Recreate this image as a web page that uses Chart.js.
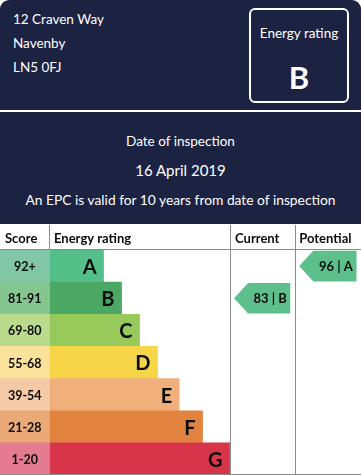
<!DOCTYPE html>
<html>
<head>
<meta charset="utf-8">
<script src="https://cdn.jsdelivr.net/npm/chart.js@4.4.1/dist/chart.umd.min.js"></script>
<style>
  html, body { margin: 0; padding: 0; background: #ffffff; }
  body { width: 361px; height: 475px; position: relative; overflow: hidden; font-family: Lato, "Open Sans", sans-serif; }
  .navy { position: absolute; left: 0; width: 361px; background: #1c2242; color: #ffffff; }
  #top { top: 0; height: 110px; border-radius: 9px 9px 0 0; }
  #mid { top: 112px; height: 112px; }
  .addr { position: absolute; left: 13px; font-size: 13.5px; line-height: 16px; }
  #box { position: absolute; left: 249px; top: 8px; width: 96px; height: 91px; border: 2px solid #ffffff; border-radius: 6px; }
  #box .lbl { position: absolute; left: 0; width: 96px; top: 15px; text-align: center; font-size: 13.5px; line-height: 16px; }
  #box .big { position: absolute; left: 0; width: 96px; top: 50px; text-align: center; font-size: 31px; font-weight: 700; line-height: 34px; }
  .mtxt { position: absolute; left: 0; width: 361px; text-align: center; line-height: 18px; }
  #chartWrap { position: absolute; left: 0; top: 225px; width: 361px; height: 250px; }
</style>
</head>
<body>
<div id="top" class="navy">
  <div class="addr" id="a1" style="top:11px"></div>
  <div class="addr" id="a2" style="top:35px"></div>
  <div class="addr" id="a3" style="top:59px"></div>
  <div id="box"><div class="lbl" id="boxLbl"></div><div class="big" id="boxBand"></div></div>
</div>
<div id="mid" class="navy">
  <div class="mtxt" id="m1" style="top:20px;font-size:13.5px"></div>
  <div class="mtxt" id="m2" style="top:49px;font-size:15px"></div>
  <div class="mtxt" id="m3" style="top:79px;font-size:13.8px"></div>
</div>
<div id="chartWrap"><canvas id="c" width="361" height="250"></canvas></div>
<script>
// ---- data ----
const addressLines = ['12 Craven Way', 'Navenby', 'LN5 0FJ'];
const ratingLabel = 'Energy rating';
const overallBand = 'B';
const inspectionLines = ['Date of inspection', '16 April 2019', 'An EPC is valid for 10 years from date of inspection'];
const headerLabels = ['Score', 'Energy rating', 'Current', 'Potential'];
const bands = ['A', 'B', 'C', 'D', 'E', 'F', 'G'];
const scoreRanges = ['92+', '81-91', '69-80', '55-68', '39-54', '21-28', '1-20'];
const barLengths = [30, 40, 50, 60, 72, 85, 100];
const currentScore = 83;
const currentBand = 'B';
const potentialScore = 96;
const potentialBand = 'A';

// ---- styles ----
const bandColors = ['#55bf8a', '#4ba864', '#97c95b', '#f7d548', '#f1b07b', '#e2843f', '#d8344a'];
const scoreColors = ['#80c6a7', '#85c690', '#badb8c', '#fbe29a', '#f5caa6', '#eaa977', '#e47b92'];
const arrowColor = '#5dbf8b';
const lineColor = '#8c8c8c';
const textDark = '#0b0c0c';
const FONT = 'Lato, "Open Sans", sans-serif';
// column extents in x-scale units (rating column = 0..100)
const COL_SCORE = [-27.5, 0];
const COL_CURRENT = [100, 136.2];
const COL_POTENTIAL = [136.2, 173];

document.getElementById('a1').textContent = addressLines[0];
document.getElementById('a2').textContent = addressLines[1];
document.getElementById('a3').textContent = addressLines[2];
document.getElementById('boxLbl').textContent = ratingLabel;
document.getElementById('boxBand').textContent = overallBand;
document.getElementById('m1').textContent = inspectionLines[0];
document.getElementById('m2').textContent = inspectionLines[1];
document.getElementById('m3').textContent = inspectionLines[2];

const tablePlugin = {
  id: 'epcTable',
  afterDatasetsDraw(chart) {
    const { ctx, chartArea, scales } = chart;
    const x = scales.x, y = scales.y;
    const top = 0, headBottom = chartArea.top, bottom = chartArea.bottom;
    const xs0 = x.getPixelForValue(COL_SCORE[0]);
    const xs1 = x.getPixelForValue(COL_SCORE[1]);
    const xc0 = x.getPixelForValue(COL_CURRENT[0]);
    const xc1 = x.getPixelForValue(COL_CURRENT[1]);
    const xp0 = x.getPixelForValue(COL_POTENTIAL[0]);
    const xp1 = x.getPixelForValue(COL_POTENTIAL[1]);
    const rowH = (bottom - headBottom) / bands.length;
    ctx.save();
    // grid lines
    ctx.strokeStyle = lineColor;
    ctx.lineWidth = 1;
    ctx.beginPath();
    ctx.moveTo(0, headBottom - 0.5); ctx.lineTo(chart.width, headBottom - 0.5);
    ctx.moveTo(Math.round(xs1) - 0.5, top); ctx.lineTo(Math.round(xs1) - 0.5, headBottom);
    ctx.moveTo(Math.round(xc0) + 0.5, top); ctx.lineTo(Math.round(xc0) + 0.5, bottom);
    ctx.moveTo(Math.round(xp0) + 0.5, top); ctx.lineTo(Math.round(xp0) + 0.5, bottom);
    ctx.moveTo(0, bottom - 0.5); ctx.lineTo(chart.width, bottom - 0.5);
    ctx.stroke();
    // header labels
    ctx.fillStyle = textDark;
    ctx.font = 'bold 13px ' + FONT;
    ctx.textBaseline = 'middle';
    ctx.textAlign = 'left';
    const hy = headBottom / 2 + 1.5;
    ctx.fillText(headerLabels[0], xs0 + 5, hy);
    ctx.fillText(headerLabels[1], xs1 + 4.5, hy);
    ctx.fillText(headerLabels[2], xc0 + 5.5, hy);
    ctx.fillText(headerLabels[3], xp0 + 4.5, hy);
    // score ranges + band letters
    bands.forEach((b, i) => {
      const cy = y.getPixelForValue(i);
      ctx.textAlign = 'center';
      ctx.font = 'bold 12.5px ' + FONT;
      ctx.fillText(scoreRanges[i], (xs0 + xs1) / 2, cy + 1);
      ctx.textAlign = 'right';
      ctx.font = 'bold 20px ' + FONT;
      ctx.fillText(b, x.getPixelForValue(barLengths[i]) - 7, cy + 1.5);
    });
    // arrows
    function arrow(score, band, c0, c1) {
      const i = bands.indexOf(band);
      const cy = y.getPixelForValue(i);
      const h = rowH - 1.5;
      const l = c0 + 4.5, r = c1 - 4.5, tip = 14;
      ctx.fillStyle = arrowColor;
      ctx.beginPath();
      ctx.moveTo(l, cy);
      ctx.lineTo(l + tip, cy - h / 2);
      ctx.lineTo(r, cy - h / 2);
      ctx.lineTo(r, cy + h / 2);
      ctx.lineTo(l + tip, cy + h / 2);
      ctx.closePath();
      ctx.fill();
      ctx.fillStyle = textDark;
      ctx.font = 'bold 13px ' + FONT;
      ctx.textAlign = 'center';
      ctx.fillText(score + ' | ' + band, (l + tip + r) / 2 + 1, cy + 1);
    }
    arrow(currentScore, currentBand, xc0, xc1);
    arrow(potentialScore, potentialBand, xp0, xp1);
    ctx.restore();
  }
};

new Chart(document.getElementById('c').getContext('2d'), {
  type: 'bar',
  data: {
    labels: bands,
    datasets: [
      {
        label: 'Score',
        data: bands.map(() => [COL_SCORE[0], COL_SCORE[1]]),
        backgroundColor: scoreColors,
        grouped: false, barPercentage: 1, categoryPercentage: 1, borderWidth: 0
      },
      {
        label: 'Energy rating',
        data: barLengths.map(v => [0, v]),
        backgroundColor: bandColors,
        grouped: false, barPercentage: 1, categoryPercentage: 1, borderWidth: 0
      }
    ]
  },
  options: {
    indexAxis: 'y',
    responsive: false,
    animation: false,
    layout: { padding: { top: 25, left: 0, right: 0, bottom: 0 } },
    scales: {
      x: { type: 'linear', min: COL_SCORE[0], max: COL_POTENTIAL[1], display: false },
      y: { type: 'category', display: false }
    },
    plugins: { legend: { display: false }, tooltip: { enabled: false } }
  },
  plugins: [tablePlugin]
});
</script>
</body>
</html>
